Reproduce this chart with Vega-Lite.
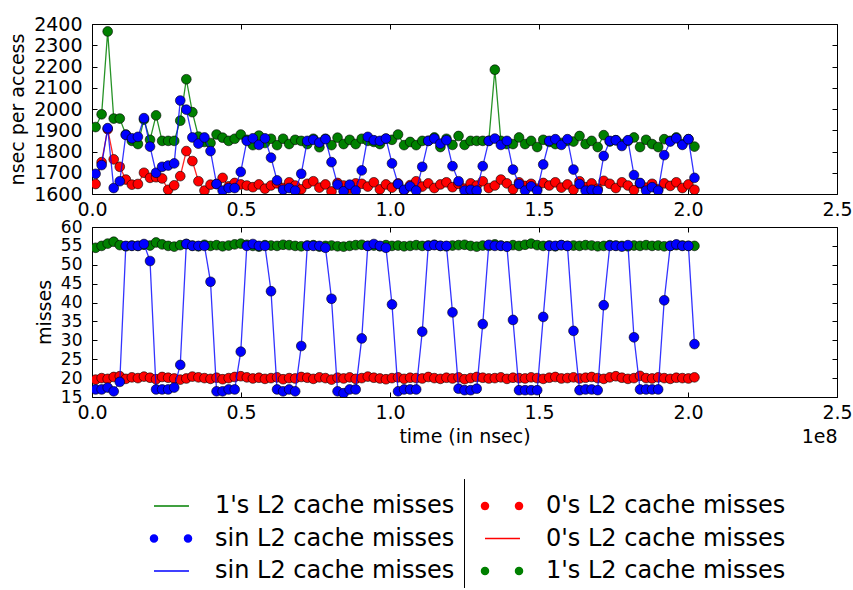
{
  "$schema": "https://vega.github.io/schema/vega-lite/v6.json",
  "background": "white",
  "padding": {"left": 8, "top": 14, "right": 0, "bottom": 0},
  "bounds": "flush",
  "spacing": 33,
  "config": {
    "font": "DejaVu Sans",
    "view": {"stroke": "black", "strokeWidth": 1, "fill": "white"},
    "axis": {"domain": false, "grid": false, "tickColor": "black", "tickSize": -5, "tickWidth": 1,
      "labelFont": "DejaVu Sans", "labelFontSize": 19, "labelColor": "black",
      "titleFont": "DejaVu Sans", "titleFontSize": 19, "titleFontWeight": "normal", "titleColor": "black",
      "labelFlush": false, "labelOverlap": false, "labelBound": false},
    "axisX": {"labelPadding": 11, "titlePadding": 5},
    "axisY": {"labelPadding": 15, "titlePadding": 6},
    "legend": {"padding": 0, "symbolSize": 144, "symbolStrokeWidth": 0, "symbolOpacity": 1, "labelOffset": 49,
      "labelFont": "DejaVu Sans", "labelFontSize": 24, "labelColor": "black", "labelLimit": 400, "rowPadding": 8.5}
  },
  "datasets": {
    "d": [
      {"t":1200000,"ns0":1647,"ns1":1915,"nssin":1695,"m0":19.6,"m1":54.5,"msin":17},
      {"t":3230000,"ns0":1750,"ns1":1975,"nssin":1736,"m0":20.0,"m1":55.0,"msin":17},
      {"t":5260000,"ns0":1905,"ns1":2365,"nssin":1910,"m0":19.8,"m1":55.6,"msin":17.5},
      {"t":7290000,"ns0":1763,"ns1":1955,"nssin":1628,"m0":20.3,"m1":56.1,"msin":16.5},
      {"t":9320000,"ns0":1728,"ns1":1955,"nssin":1660,"m0":20.5,"m1":55.2,"msin":19},
      {"t":11350000,"ns0":1668,"ns1":1880,"nssin":1878,"m0":19.8,"m1":54.9,"msin":55},
      {"t":13380000,"ns0":1644,"ns1":1850,"nssin":1862,"m0":20.2,"m1":55.1,"msin":55},
      {"t":15410000,"ns0":1647,"ns1":1835,"nssin":1869,"m0":20.0,"m1":55.0,"msin":55},
      {"t":17440000,"ns0":1700,"ns1":1950,"nssin":1957,"m0":20.4,"m1":55.3,"msin":55.5},
      {"t":19470000,"ns0":1676,"ns1":1855,"nssin":1823,"m0":20.1,"m1":55.1,"msin":51},
      {"t":21500000,"ns0":1679,"ns1":1970,"nssin":1700,"m0":19.7,"m1":55.9,"msin":17},
      {"t":23530000,"ns0":1673,"ns1":1850,"nssin":1728,"m0":20.3,"m1":55.4,"msin":17},
      {"t":25560000,"ns0":1620,"ns1":1850,"nssin":1734,"m0":20.1,"m1":55.0,"msin":17},
      {"t":27590000,"ns0":1641,"ns1":1850,"nssin":1744,"m0":19.9,"m1":54.8,"msin":17.5},
      {"t":29620000,"ns0":1684,"ns1":1945,"nssin":2040,"m0":19.6,"m1":55.2,"msin":23.5},
      {"t":31650000,"ns0":1802,"ns1":2140,"nssin":1997,"m0":19.9,"m1":55.5,"msin":55.5},
      {"t":33680000,"ns0":1755,"ns1":1985,"nssin":1866,"m0":20.4,"m1":55.1,"msin":55},
      {"t":35710000,"ns0":1660,"ns1":1870,"nssin":1837,"m0":20.2,"m1":54.9,"msin":55},
      {"t":37740000,"ns0":1616,"ns1":1845,"nssin":1866,"m0":20.0,"m1":55.3,"msin":55},
      {"t":39770000,"ns0":1644,"ns1":1840,"nssin":1802,"m0":19.8,"m1":55.0,"msin":45.5},
      {"t":41800000,"ns0":1647,"ns1":1880,"nssin":1647,"m0":20.1,"m1":55.2,"msin":16.5},
      {"t":43830000,"ns0":1676,"ns1":1865,"nssin":1616,"m0":19.7,"m1":54.9,"msin":16.5},
      {"t":45860000,"ns0":1636,"ns1":1850,"nssin":1628,"m0":20.0,"m1":55.1,"msin":17},
      {"t":47890000,"ns0":1652,"ns1":1860,"nssin":1628,"m0":20.3,"m1":55.4,"msin":17},
      {"t":49920000,"ns0":1645,"ns1":1880,"nssin":1704,"m0":20.5,"m1":55.6,"msin":27},
      {"t":51950000,"ns0":1640,"ns1":1855,"nssin":1850,"m0":20.2,"m1":55.3,"msin":55},
      {"t":53980000,"ns0":1632,"ns1":1830,"nssin":1862,"m0":19.9,"m1":55.0,"msin":55.5},
      {"t":56010000,"ns0":1645,"ns1":1875,"nssin":1831,"m0":20.1,"m1":54.8,"msin":55},
      {"t":58040000,"ns0":1625,"ns1":1840,"nssin":1862,"m0":19.8,"m1":55.2,"msin":55},
      {"t":60070000,"ns0":1640,"ns1":1860,"nssin":1771,"m0":20.0,"m1":55.1,"msin":43},
      {"t":62100000,"ns0":1650,"ns1":1830,"nssin":1664,"m0":20.2,"m1":55.0,"msin":17},
      {"t":64130000,"ns0":1628,"ns1":1860,"nssin":1620,"m0":19.7,"m1":55.3,"msin":16.5},
      {"t":66160000,"ns0":1655,"ns1":1835,"nssin":1628,"m0":20.0,"m1":55.2,"msin":17},
      {"t":68190000,"ns0":1640,"ns1":1855,"nssin":1616,"m0":19.9,"m1":55.0,"msin":16.5},
      {"t":70220000,"ns0":1622,"ns1":1850,"nssin":1695,"m0":20.3,"m1":54.9,"msin":28.5},
      {"t":72250000,"ns0":1648,"ns1":1835,"nssin":1850,"m0":20.1,"m1":55.1,"msin":55},
      {"t":74280000,"ns0":1660,"ns1":1860,"nssin":1855,"m0":19.8,"m1":55.2,"msin":55},
      {"t":76310000,"ns0":1630,"ns1":1820,"nssin":1842,"m0":20.2,"m1":54.8,"msin":55},
      {"t":78340000,"ns0":1645,"ns1":1860,"nssin":1858,"m0":20.0,"m1":55.0,"msin":54.5},
      {"t":80370000,"ns0":1612,"ns1":1830,"nssin":1750,"m0":19.6,"m1":55.1,"msin":41},
      {"t":82400000,"ns0":1652,"ns1":1865,"nssin":1644,"m0":20.1,"m1":54.9,"msin":16.5},
      {"t":84430000,"ns0":1640,"ns1":1835,"nssin":1613,"m0":19.9,"m1":54.8,"msin":16},
      {"t":86460000,"ns0":1625,"ns1":1855,"nssin":1644,"m0":20.2,"m1":55.0,"msin":17},
      {"t":88490000,"ns0":1650,"ns1":1835,"nssin":1616,"m0":19.8,"m1":55.2,"msin":17},
      {"t":90520000,"ns0":1648,"ns1":1860,"nssin":1711,"m0":20.0,"m1":55.3,"msin":30.5},
      {"t":92550000,"ns0":1635,"ns1":1850,"nssin":1869,"m0":20.4,"m1":55.0,"msin":55},
      {"t":94580000,"ns0":1655,"ns1":1845,"nssin":1853,"m0":20.1,"m1":55.1,"msin":55.5},
      {"t":96610000,"ns0":1622,"ns1":1835,"nssin":1850,"m0":19.9,"m1":54.9,"msin":55},
      {"t":98640000,"ns0":1645,"ns1":1860,"nssin":1861,"m0":19.7,"m1":55.2,"msin":54.5},
      {"t":100670000,"ns0":1630,"ns1":1855,"nssin":1744,"m0":20.0,"m1":55.0,"msin":39.5},
      {"t":102700000,"ns0":1650,"ns1":1880,"nssin":1647,"m0":20.2,"m1":55.1,"msin":16.5},
      {"t":104730000,"ns0":1618,"ns1":1830,"nssin":1620,"m0":19.8,"m1":54.9,"msin":17},
      {"t":106760000,"ns0":1642,"ns1":1845,"nssin":1636,"m0":20.1,"m1":55.0,"msin":17},
      {"t":108790000,"ns0":1660,"ns1":1830,"nssin":1616,"m0":20.0,"m1":55.2,"msin":17},
      {"t":110820000,"ns0":1635,"ns1":1850,"nssin":1728,"m0":19.9,"m1":55.0,"msin":32.3},
      {"t":112850000,"ns0":1650,"ns1":1850,"nssin":1850,"m0":20.3,"m1":55.1,"msin":55},
      {"t":114880000,"ns0":1628,"ns1":1866,"nssin":1861,"m0":20.0,"m1":55.3,"msin":55.2},
      {"t":116910000,"ns0":1645,"ns1":1821,"nssin":1837,"m0":19.8,"m1":55.0,"msin":55},
      {"t":118940000,"ns0":1655,"ns1":1860,"nssin":1853,"m0":20.1,"m1":54.9,"msin":55},
      {"t":120970000,"ns0":1632,"ns1":1831,"nssin":1731,"m0":19.9,"m1":55.1,"msin":37.4},
      {"t":123000000,"ns0":1648,"ns1":1873,"nssin":1660,"m0":20.2,"m1":55.2,"msin":17.2},
      {"t":125030000,"ns0":1625,"ns1":1831,"nssin":1616,"m0":19.7,"m1":55.3,"msin":16.8},
      {"t":127060000,"ns0":1650,"ns1":1850,"nssin":1620,"m0":20.0,"m1":55.0,"msin":16.8},
      {"t":129090000,"ns0":1640,"ns1":1850,"nssin":1616,"m0":20.3,"m1":54.8,"msin":17.2},
      {"t":131120000,"ns0":1660,"ns1":1850,"nssin":1731,"m0":20.1,"m1":55.1,"msin":34.3},
      {"t":133150000,"ns0":1628,"ns1":1850,"nssin":1850,"m0":19.9,"m1":55.0,"msin":55.3},
      {"t":135180000,"ns0":1640,"ns1":2185,"nssin":1861,"m0":20.0,"m1":55.4,"msin":55},
      {"t":137210000,"ns0":1668,"ns1":1850,"nssin":1831,"m0":20.2,"m1":55.1,"msin":55},
      {"t":139240000,"ns0":1650,"ns1":1835,"nssin":1850,"m0":19.8,"m1":54.9,"msin":54.8},
      {"t":141270000,"ns0":1622,"ns1":1835,"nssin":1715,"m0":20.1,"m1":55.2,"msin":35.4},
      {"t":143300000,"ns0":1655,"ns1":1866,"nssin":1647,"m0":20.0,"m1":55.0,"msin":16.8},
      {"t":145330000,"ns0":1638,"ns1":1835,"nssin":1616,"m0":19.9,"m1":55.3,"msin":16.8},
      {"t":147360000,"ns0":1648,"ns1":1850,"nssin":1636,"m0":20.2,"m1":55.6,"msin":16.8},
      {"t":149390000,"ns0":1625,"ns1":1821,"nssin":1616,"m0":20.0,"m1":55.2,"msin":16.8},
      {"t":151420000,"ns0":1652,"ns1":1855,"nssin":1739,"m0":19.8,"m1":55.0,"msin":36.2},
      {"t":153450000,"ns0":1640,"ns1":1845,"nssin":1850,"m0":20.1,"m1":55.1,"msin":55},
      {"t":155480000,"ns0":1655,"ns1":1835,"nssin":1858,"m0":20.3,"m1":54.9,"msin":55},
      {"t":157510000,"ns0":1630,"ns1":1840,"nssin":1831,"m0":19.9,"m1":55.2,"msin":55.2},
      {"t":159540000,"ns0":1645,"ns1":1850,"nssin":1858,"m0":20.0,"m1":55.0,"msin":55},
      {"t":161570000,"ns0":1620,"ns1":1847,"nssin":1715,"m0":20.2,"m1":55.1,"msin":32.5},
      {"t":163600000,"ns0":1660,"ns1":1873,"nssin":1647,"m0":19.9,"m1":55.0,"msin":16.8},
      {"t":165630000,"ns0":1632,"ns1":1835,"nssin":1616,"m0":20.1,"m1":55.2,"msin":17},
      {"t":167660000,"ns0":1650,"ns1":1850,"nssin":1620,"m0":20.3,"m1":55.1,"msin":17},
      {"t":169690000,"ns0":1625,"ns1":1821,"nssin":1616,"m0":20.0,"m1":54.9,"msin":16.8},
      {"t":171720000,"ns0":1662,"ns1":1877,"nssin":1779,"m0":19.8,"m1":55.0,"msin":39.3},
      {"t":173750000,"ns0":1648,"ns1":1847,"nssin":1850,"m0":20.2,"m1":55.2,"msin":55},
      {"t":175780000,"ns0":1628,"ns1":1853,"nssin":1853,"m0":20.5,"m1":55.1,"msin":55},
      {"t":177810000,"ns0":1655,"ns1":1835,"nssin":1826,"m0":20.1,"m1":55.0,"msin":54.8},
      {"t":179840000,"ns0":1640,"ns1":1850,"nssin":1853,"m0":19.8,"m1":54.9,"msin":55.2},
      {"t":181870000,"ns0":1618,"ns1":1866,"nssin":1689,"m0":20.0,"m1":55.1,"msin":30.8},
      {"t":183900000,"ns0":1650,"ns1":1821,"nssin":1652,"m0":20.6,"m1":55.0,"msin":17},
      {"t":185930000,"ns0":1630,"ns1":1855,"nssin":1616,"m0":20.0,"m1":55.2,"msin":17},
      {"t":187960000,"ns0":1648,"ns1":1835,"nssin":1632,"m0":19.9,"m1":55.0,"msin":17},
      {"t":189990000,"ns0":1622,"ns1":1821,"nssin":1616,"m0":20.2,"m1":55.1,"msin":17},
      {"t":192020000,"ns0":1650,"ns1":1858,"nssin":1783,"m0":20.0,"m1":54.9,"msin":40.6},
      {"t":194050000,"ns0":1638,"ns1":1850,"nssin":1847,"m0":19.8,"m1":55.0,"msin":55},
      {"t":196080000,"ns0":1655,"ns1":1866,"nssin":1862,"m0":20.1,"m1":55.2,"msin":55.4},
      {"t":198110000,"ns0":1628,"ns1":1835,"nssin":1831,"m0":20.0,"m1":55.1,"msin":55},
      {"t":200140000,"ns0":1645,"ns1":1858,"nssin":1858,"m0":19.9,"m1":55.0,"msin":55},
      {"t":202170000,"ns0":1620,"ns1":1823,"nssin":1676,"m0":20.2,"m1":55.0,"msin":29}
    ],
    "keysLeft": [{"k": "a"}, {"k": "b"}, {"k": "c"}],
    "keysRight": [{"k": "d"}, {"k": "e"}, {"k": "f"}]
  },
  "vconcat": [
    {
      "width": 745,
      "height": 170,
      "data": {"name": "d"},
      "layer": [
        {"mark": {"type": "line", "color": "#008000", "strokeWidth": 1.3, "opacity": 0.85, "clip": true},
         "encoding": {
           "x": {"field": "t", "type": "quantitative", "scale": {"domain": [0, 250000000], "nice": false},
                 "axis": {"values": [0, 50000000, 100000000, 150000000, 200000000, 250000000], "labelExpr": "format(datum.value/100000000, '.1f')", "title": null}},
           "y": {"field": "ns1", "type": "quantitative", "scale": {"domain": [1600, 2400], "nice": false, "zero": false},
                 "axis": {"values": [1600, 1700, 1800, 1900, 2000, 2100, 2200, 2300, 2400], "format": "d", "title": "nsec per access"}}}},
        {"mark": {"type": "point", "filled": true, "shape": "circle", "size": 95, "color": "#008000", "stroke": "black", "strokeWidth": 0.6, "opacity": 1, "clip": true},
         "encoding": {
           "x": {"field": "t", "type": "quantitative", "axis": {"orient": "top", "values": [0, 50000000, 100000000, 150000000, 200000000, 250000000], "labels": false, "title": null}},
           "y": {"field": "ns1", "type": "quantitative", "axis": {"orient": "right", "values": [1600, 1700, 1800, 1900, 2000, 2100, 2200, 2300, 2400], "labels": false, "title": null}}}},
        {"mark": {"type": "line", "color": "#ff0000", "strokeWidth": 1.3, "opacity": 0.85, "clip": true},
         "encoding": {"x": {"field": "t", "type": "quantitative", "axis": null}, "y": {"field": "ns0", "type": "quantitative", "axis": null}}},
        {"mark": {"type": "point", "filled": true, "shape": "circle", "size": 95, "color": "#ff0000", "stroke": "black", "strokeWidth": 0.6, "opacity": 1, "clip": true},
         "encoding": {"x": {"field": "t", "type": "quantitative", "axis": null}, "y": {"field": "ns0", "type": "quantitative", "axis": null}}},
        {"mark": {"type": "line", "color": "#0000ff", "strokeWidth": 1.3, "opacity": 0.8, "clip": true},
         "encoding": {"x": {"field": "t", "type": "quantitative", "axis": null}, "y": {"field": "nssin", "type": "quantitative", "axis": null}}},
        {"mark": {"type": "point", "filled": true, "shape": "circle", "size": 95, "color": "#0000ff", "stroke": "black", "strokeWidth": 0.6, "opacity": 1, "clip": true},
         "encoding": {"x": {"field": "t", "type": "quantitative", "axis": null}, "y": {"field": "nssin", "type": "quantitative", "axis": null}}}
      ],
      "resolve": {"axis": {"x": "independent", "y": "independent"}}
    },
    {
      "width": 745,
      "height": 170,
      "layer": [
        {"data": {"name": "d"},
         "mark": {"type": "line", "color": "#008000", "strokeWidth": 1.3, "opacity": 0.85, "clip": true},
         "encoding": {
           "x": {"field": "t", "type": "quantitative", "scale": {"domain": [0, 250000000], "nice": false},
                 "axis": {"values": [0, 50000000, 100000000, 150000000, 200000000, 250000000], "labelExpr": "format(datum.value/100000000, '.1f')", "title": "time (in nsec)"}},
           "y": {"field": "m1", "type": "quantitative", "scale": {"domain": [15, 60], "nice": false, "zero": false},
                 "axis": {"values": [15, 20, 25, 30, 35, 40, 45, 50, 55, 60], "format": "d", "labelFontSize": 17, "title": "misses"}}}},
        {"data": {"name": "d"},
         "mark": {"type": "point", "filled": true, "shape": "circle", "size": 95, "color": "#008000", "stroke": "black", "strokeWidth": 0.6, "opacity": 1, "clip": true},
         "encoding": {
           "x": {"field": "t", "type": "quantitative", "axis": {"orient": "top", "values": [0, 50000000, 100000000, 150000000, 200000000, 250000000], "labels": false,
                 "title": "1e8", "titleX": 745, "titleY": 215, "titleAlign": "right", "titleBaseline": "alphabetic", "titleAngle": 0}},
           "y": {"field": "m1", "type": "quantitative", "axis": {"orient": "right", "values": [15, 20, 25, 30, 35, 40, 45, 50, 55, 60], "labels": false, "title": null}}}},
        {"data": {"name": "d"},
         "mark": {"type": "line", "color": "#ff0000", "strokeWidth": 1.3, "opacity": 0.85, "clip": true},
         "encoding": {"x": {"field": "t", "type": "quantitative", "axis": null}, "y": {"field": "m0", "type": "quantitative", "axis": null}}},
        {"data": {"name": "d"},
         "mark": {"type": "point", "filled": true, "shape": "circle", "size": 95, "color": "#ff0000", "stroke": "black", "strokeWidth": 0.6, "opacity": 1, "clip": true},
         "encoding": {"x": {"field": "t", "type": "quantitative", "axis": null}, "y": {"field": "m0", "type": "quantitative", "axis": null}}},
        {"data": {"name": "d"},
         "mark": {"type": "line", "color": "#0000ff", "strokeWidth": 1.3, "opacity": 0.8, "clip": true},
         "encoding": {"x": {"field": "t", "type": "quantitative", "axis": null}, "y": {"field": "msin", "type": "quantitative", "axis": null}}},
        {"data": {"name": "d"},
         "mark": {"type": "point", "filled": true, "shape": "circle", "size": 95, "color": "#0000ff", "stroke": "black", "strokeWidth": 0.6, "opacity": 1, "clip": true},
         "encoding": {"x": {"field": "t", "type": "quantitative", "axis": null}, "y": {"field": "msin", "type": "quantitative", "axis": null}}},
        {"data": {"name": "keysLeft"},
         "mark": {"type": "rule", "color": "black", "strokeWidth": 1, "clip": false},
         "encoding": {"x": {"datum": 125000000, "type": "quantitative", "axis": null}, "y": {"datum": -6.8, "type": "quantitative", "axis": null}, "y2": {"datum": -35.5}}},
        {"data": {"name": "keysLeft"},
         "mark": {"type": "point", "filled": true},
         "encoding": {
           "opacity": {"value": 0},
           "color": {"field": "k", "type": "nominal",
             "scale": {"domain": ["a", "b", "c"], "range": ["#008000", "#0000ff", "#0000ff"]},
             "legend": {"title": null, "orient": "none", "legendX": 50, "legendY": 267,
               "labelExpr": "datum.label == 'a' ? \"1's L2 cache misses\" : 'sin L2 cache misses'"}},
           "shape": {"field": "k", "type": "nominal",
             "scale": {"domain": ["a", "b", "c"], "range": [
               "M0,-0.11L5.83,-0.11L5.83,0.11L0,0.11Z",
               "M-0.71,0A0.71,0.71,0,1,0,0.71,0A0.71,0.71,0,1,0,-0.71,0ZM4.96,0A0.71,0.71,0,1,0,6.38,0A0.71,0.71,0,1,0,4.96,0Z",
               "M0,-0.11L5.83,-0.11L5.83,0.11L0,0.11Z"]},
             "legend": {"title": null, "orient": "none", "legendX": 50, "legendY": 267,
               "labelExpr": "datum.label == 'a' ? \"1's L2 cache misses\" : 'sin L2 cache misses'"}}
         }},
        {"data": {"name": "keysRight"},
         "mark": {"type": "point", "filled": true},
         "encoding": {
           "opacity": {"value": 0},
           "color": {"field": "k", "type": "nominal",
             "scale": {"domain": ["d", "e", "f"], "range": ["#ff0000", "#ff0000", "#008000"]},
             "legend": {"title": null, "orient": "none", "legendX": 381, "legendY": 267,
               "labelExpr": "datum.label == 'f' ? \"1's L2 cache misses\" : \"0's L2 cache misses\""}},
           "shape": {"field": "k", "type": "nominal",
             "scale": {"domain": ["d", "e", "f"], "range": [
               "M-0.71,0A0.71,0.71,0,1,0,0.71,0A0.71,0.71,0,1,0,-0.71,0ZM4.96,0A0.71,0.71,0,1,0,6.38,0A0.71,0.71,0,1,0,4.96,0Z",
               "M0,-0.11L5.83,-0.11L5.83,0.11L0,0.11Z",
               "M-0.71,0A0.71,0.71,0,1,0,0.71,0A0.71,0.71,0,1,0,-0.71,0ZM4.96,0A0.71,0.71,0,1,0,6.38,0A0.71,0.71,0,1,0,4.96,0Z"]},
             "legend": {"title": null, "orient": "none", "legendX": 381, "legendY": 267,
               "labelExpr": "datum.label == 'f' ? \"1's L2 cache misses\" : \"0's L2 cache misses\""}}
         }}
      ],
      "resolve": {
        "axis": {"x": "independent", "y": "independent"},
        "scale": {"color": "independent", "shape": "independent"},
        "legend": {"color": "independent", "shape": "independent"}
      }
    }
  ]
}
